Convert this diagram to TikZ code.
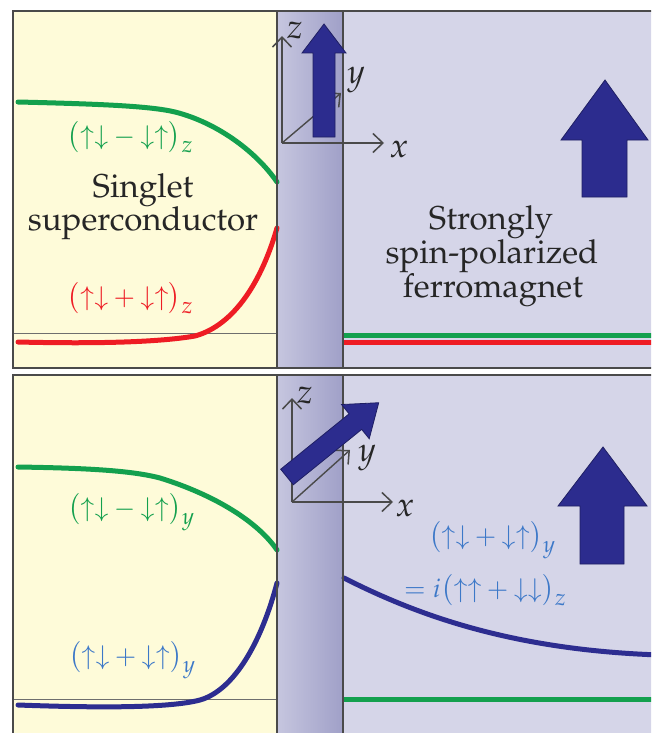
\documentclass[tikz,border=0pt]{standalone}
\usepackage[T1]{fontenc}
\usepackage{mathpazo}
\usetikzlibrary{arrows.meta}
\definecolor{sccream}{HTML}{FEFBD9}
\definecolor{fmlav}{HTML}{D5D5E8}
\definecolor{barL}{HTML}{C6C6DF}
\definecolor{barM}{HTML}{CCCCE3}
\definecolor{barR}{HTML}{A0A0C8}
\definecolor{navy}{HTML}{2C2C8E}
\definecolor{cgreen}{HTML}{13A04E}
\definecolor{cred}{HTML}{EE1C24}
\definecolor{cblue}{HTML}{2D2D90}
\definecolor{tblue}{HTML}{3C78C8}
\definecolor{framec}{HTML}{4A4A4A}
\newcommand{\lowsub}[1]{\kern0.5pt\raisebox{-8pt}{\fontsize{23}{23}\selectfont$#1$}}
\newcommand{\pairexpr}[3]{$\bigl({#1}\mathbin{#2}{#3}\bigr)$}
\tikzset{
  curve/.style={line width=5pt, line cap=round},
  flatline/.style={line width=5pt},
  axisline/.style={draw=framec, line width=1.4pt, -{Straight Barb[length=10pt,width=19pt,line width=1.5pt]}},
  bigtext/.style={font=\fontsize{33}{34}\selectfont, text=black!85, inner sep=0pt, anchor=base},
  mlabel/.style={font=\fontsize{26}{30}\selectfont, inner sep=0pt, anchor=base},
  axlabel/.style={font=\fontsize{34}{34}\selectfont, text=black!85, inner sep=0pt},
  fatarrow/.style={fill=navy, draw=navy!70!black, line width=0.8pt, line join=miter},
  panelframe/.style={draw=framec, line width=2pt},
  divider/.style={draw=framec, line width=1.5pt},
  thinrule/.style={draw=framec!80, line width=1pt},
}
\begin{document}
\begin{tikzpicture}[x=1pt,y=-1pt]
\useasboundingbox (0,0) rectangle (651,733);
\clip (0,0) rectangle (651,733);
\fill[white] (0,0) rectangle (651,733);
% ---------- top panel ----------
\fill[sccream] (13,11) rectangle (277,368);
\shade[left color=barL, middle color=barM, right color=barR] (277,11) rectangle (343,368);
\fill[fmlav] (343,11) rectangle (670,368);
\draw[thinrule] (13,333) -- (277,333);
\draw[cgreen, flatline] (343,335) -- (660,335);
\draw[cred, flatline] (343,342) -- (660,342);
\draw[cgreen, curve] (18,102) .. controls (100,104) and (150,106) .. (175,112)
      .. controls (215,122) and (255,150) .. (277,182);
\draw[cred, curve] (18,342) .. controls (100,344) and (160,342) .. (195,336)
      .. controls (235,325) and (262,280) .. (277,228);
\draw[panelframe] (13,11) rectangle (670,368);
\draw[divider] (277,11) -- (277,368);
\draw[divider] (343,11) -- (343,368);
% axes top
\coordinate (o1) at (282,143);
\coordinate (z1) at (282,36);
\coordinate (x1) at (384,143);
\coordinate (y1) at (341,93);
\draw[axisline] (o1) -- (z1);
\draw[axisline] (o1) -- (x1);
\draw[axisline] (o1) -- (y1);
\draw[fatarrow] (313,137) -- (313,53) -- (302,53) -- (324,24) -- (346,53) -- (335,53) -- (335,137) -- cycle;
\node[axlabel] (lz1) at (295,30) {$z$};
\node[axlabel] (ly1) at (356,80) {$y$};
\node[axlabel] (lx1) at (399,149) {$x$};
% FM arrow top
\draw[fatarrow] (582,197) -- (582,140) -- (561,140) -- (605,80) -- (648,140) -- (627,140) -- (627,197) -- cycle;
% texts top
\node[mlabel, text=cgreen] (gz) at (130,144) {\pairexpr{\uparrow\downarrow}{-}{\downarrow\uparrow}\lowsub{z}};
\node[bigtext] (sing) at (143,197) {Singlet};
\node[bigtext] (supc) at (143,230) {superconductor};
\node[mlabel, text=cred] (rz) at (130,305) {\pairexpr{\uparrow\downarrow}{+}{\downarrow\uparrow}\lowsub{z}};
\node[bigtext] (str) at (491,229) {Strongly};
\node[bigtext] (spn) at (492,263) {spin-polarized};
\node[bigtext] (fer) at (493,297) {ferromagnet};
% ---------- bottom panel ----------
\fill[sccream] (13,375) rectangle (277,750);
\shade[left color=barL, middle color=barM, right color=barR] (277,375) rectangle (343,750);
\fill[fmlav] (343,375) rectangle (670,750);
\draw[thinrule] (13,699) -- (277,699);
\draw[cgreen, flatline] (343,699) -- (660,699);
\draw[cgreen, curve] (18,467) .. controls (80,468) and (130,470) .. (160,478)
      .. controls (215,495) and (258,522) .. (277,550);
\draw[cblue, curve] (18,705) .. controls (100,708) and (170,708) .. (200,700)
      .. controls (235,690) and (262,640) .. (277,583);
\draw[cblue, curve] (344,578) .. controls (415,614) and (510,650) .. (660,655);
\draw[panelframe] (13,375) rectangle (670,750);
\draw[divider] (277,375) -- (277,750);
\draw[divider] (343,375) -- (343,750);
% axes bottom
\coordinate (o2) at (292,502);
\coordinate (z2) at (292,398);
\coordinate (x2) at (393,502);
\coordinate (y2) at (350,450);
\draw[axisline] (o2) -- (z2);
\draw[axisline] (o2) -- (x2);
\draw[axisline] (o2) -- (y2);
\begin{scope}[shift={(287,477)}, rotate=39]
\draw[fatarrow] (0,10) -- (88,10) -- (88,22) -- (118,0) -- (88,-22) -- (88,-10) -- (0,-10) -- cycle;
\end{scope}
\node[axlabel] (lz2) at (305,395) {$z$};
\node[axlabel] (ly2) at (367,458) {$y$};
\node[axlabel] (lx2) at (405,508) {$x$};
% FM arrow bottom
\draw[fatarrow] (580,564) -- (580,506) -- (558,506) -- (603,447) -- (647,506) -- (624,506) -- (624,564) -- cycle;
% texts bottom
\node[mlabel, text=cgreen] (gy) at (131,516) {\pairexpr{\uparrow\downarrow}{-}{\downarrow\uparrow}\lowsub{y}};
\node[mlabel, text=tblue] (by) at (132,664) {\pairexpr{\uparrow\downarrow}{+}{\downarrow\uparrow}\lowsub{y}};
\node[mlabel, text=tblue] (fy) at (492,544) {\pairexpr{\uparrow\downarrow}{+}{\downarrow\uparrow}\lowsub{y}};
\node[mlabel, text=tblue] (fz) at (485,597) {$=i\bigl({\uparrow\uparrow}+{\downarrow\downarrow}\bigr)$\lowsub{z}};
\end{tikzpicture}
\end{document}
